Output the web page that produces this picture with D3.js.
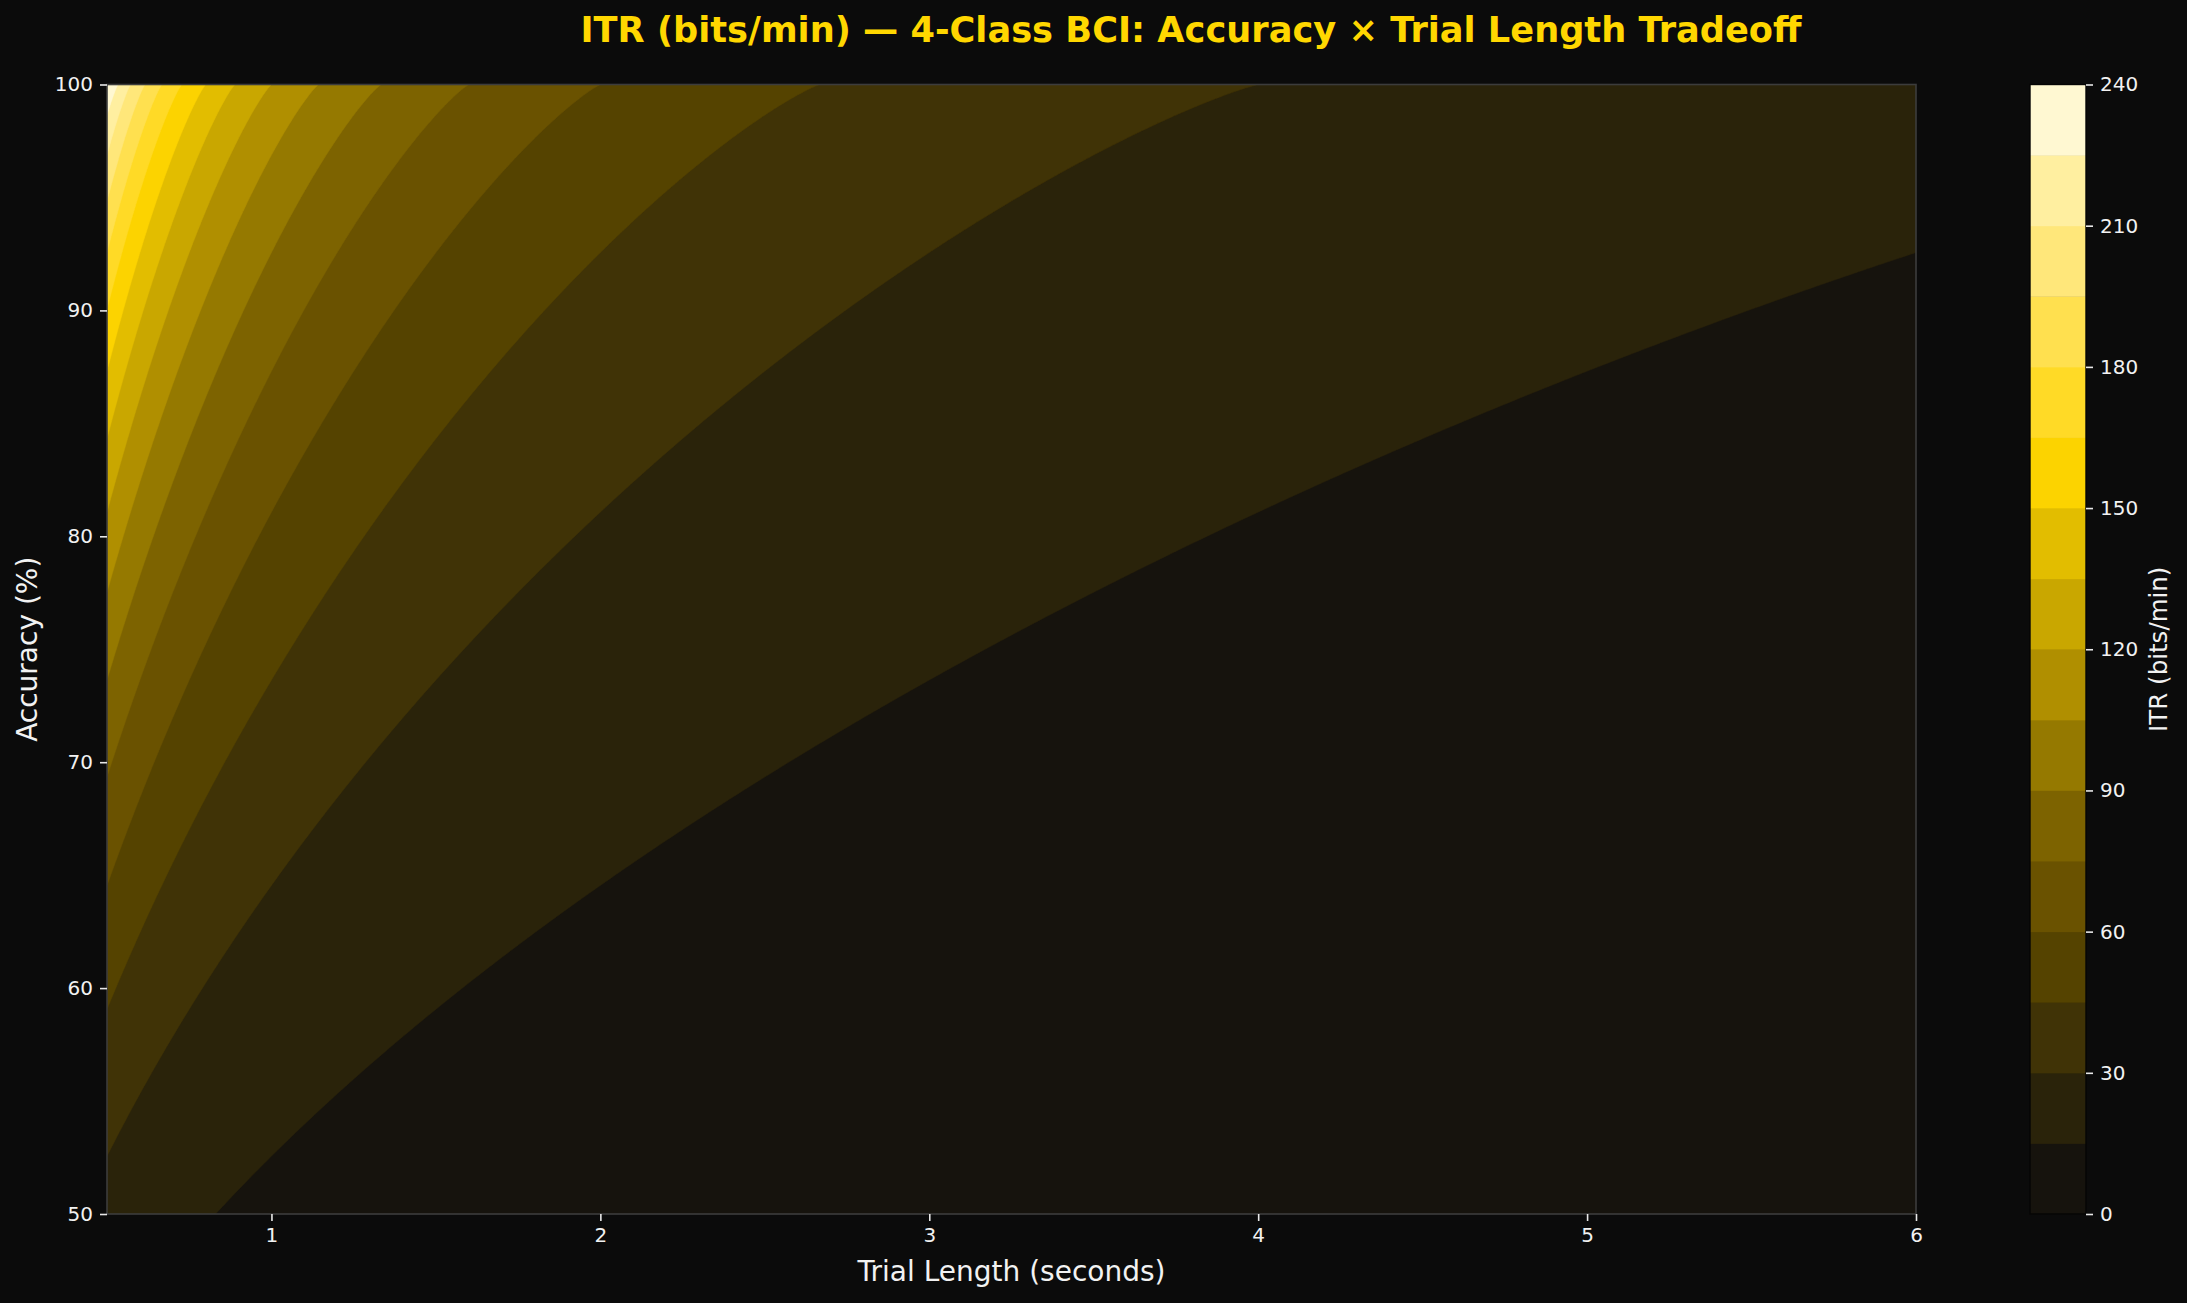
<!DOCTYPE html>
<html>
<head>
<meta charset="utf-8">
<script src="https://cdn.jsdelivr.net/npm/d3@7"></script>
<style>
  html, body { margin: 0; padding: 0; background: #0b0b0b; }
  svg { display: block; }
  text { font-family: "DejaVu Sans", sans-serif; }
</style>
</head>
<body>
<script>
// ---------------- data ----------------
const nClasses = 4;                       // 4-class BCI
const trialRange = [0.5, 6];              // trial length (s)
const accuracyRange = [50, 100];          // accuracy (%)
const itrLevels = [0, 15, 30, 45, 60, 75, 90, 105, 120, 135, 150, 165, 180, 195, 210, 225, 240];
const xTicks = [1, 2, 3, 4, 5, 6];
const yTicks = [50, 60, 70, 80, 90, 100];
const cbTicks = [0, 30, 60, 90, 120, 150, 180, 210, 240];
const bandColors = ["#16130d", "#2a230a", "#403306", "#554300", "#6a5200", "#7d6300",
                    "#957900", "#b08f00", "#c9a700", "#e2bd00", "#fcd300", "#ffda26",
                    "#ffe04f", "#ffe77a", "#ffefa0", "#fff8d2"];
const titleText = "ITR (bits/min) \u2014 4-Class BCI: Accuracy \u00d7 Trial Length Tradeoff";
const xLabel = "Trial Length (seconds)";
const yLabel = "Accuracy (%)";
const cbLabel = "ITR (bits/min)";

// Wolpaw information transfer rate (bits/min)
function itr(accPct, T, N) {
  const P = accPct / 100;
  let B = Math.log2(N);
  if (P > 0) B += P * Math.log2(P);
  if (P < 1) B += (1 - P) * Math.log2((1 - P) / (N - 1));
  return B * 60 / T;
}

// ---------------- layout ----------------
const W = 2187, H = 1303;
const L = 107, R = 1916, T = 84.5, B = 1214;
const cbX0 = 2030, cbX1 = 2086;

const svg = d3.select("body").append("svg")
  .attr("width", W).attr("height", H)
  .style("background", "#0b0b0b");

const x = d3.scaleLinear().domain(trialRange).range([L, R]);
const y = d3.scaleLinear().domain(accuracyRange).range([B, T]);

// grid of ITR values
const nx = 440, ny = 320;
const dt = (trialRange[1] - trialRange[0]) / (nx - 1);
const da = (accuracyRange[1] - accuracyRange[0]) / (ny - 1);
const values = new Float64Array(nx * ny);
for (let j = 0; j < ny; j++) {
  const a = accuracyRange[0] + j * da;
  for (let i = 0; i < nx; i++) {
    const t = trialRange[0] + i * dt;
    values[j * nx + i] = itr(a, t, nClasses);
  }
}

const contours = d3.contours().size([nx, ny])
  .thresholds(itrLevels.slice(0, -1))(values);

const proj = d3.geoTransform({
  point(gx, gy) {
    this.stream.point(
      x(trialRange[0] + (gx - 0.5) * dt),
      y(accuracyRange[0] + (gy - 0.5) * da));
  }
});
const path = d3.geoPath(proj);

svg.append("defs").append("clipPath").attr("id", "plotclip")
  .append("rect").attr("x", L).attr("y", T).attr("width", R - L).attr("height", B - T);

const gPlot = svg.append("g").attr("clip-path", "url(#plotclip)");
gPlot.append("rect").attr("x", L).attr("y", T).attr("width", R - L).attr("height", B - T)
  .attr("fill", bandColors[0]);
gPlot.selectAll("path.band").data(contours).join("path")
  .attr("class", "band")
  .attr("d", path)
  .attr("fill", d => bandColors[itrLevels.indexOf(d.value)])
  .attr("stroke", d => bandColors[itrLevels.indexOf(d.value)])
  .attr("stroke-width", 0.5);

// spines
svg.append("rect").attr("x", L).attr("y", T).attr("width", R - L).attr("height", B - T)
  .attr("fill", "none").attr("stroke", "#3c3c3c").attr("stroke-width", 1.6);

// axes
function styleAxis(g) {
  g.select(".domain").remove();
  g.selectAll(".tick line").attr("stroke", "#e8e8e8").attr("stroke-width", 1.6);
  g.selectAll(".tick text").attr("fill", "#f2f2f2").style("font-size", "20px")
    .style("font-family", "'DejaVu Sans', sans-serif");
}
svg.append("g").attr("transform", `translate(0,${B})`)
  .call(d3.axisBottom(x).tickValues(xTicks).tickFormat(d3.format("d")).tickSize(7).tickPadding(7))
  .call(styleAxis);
svg.append("g").attr("transform", `translate(${L},0)`)
  .call(d3.axisLeft(y).tickValues(yTicks).tickFormat(d3.format("d")).tickSize(7).tickPadding(7))
  .call(styleAxis);

// axis labels
svg.append("text").attr("x", (L + R) / 2).attr("y", 1281)
  .attr("text-anchor", "middle").attr("fill", "#f2f2f2").style("font-size", "28px")
  .text(xLabel);
svg.append("text").attr("transform", `translate(37,${(T + B) / 2}) rotate(-90)`)
  .attr("text-anchor", "middle").attr("fill", "#f2f2f2").style("font-size", "28px")
  .text(yLabel);

// title
svg.append("text").attr("x", 1191).attr("y", 42)
  .attr("text-anchor", "middle").attr("fill", "#FFD700")
  .style("font-size", "35.2px").style("font-weight", "bold")
  .text(titleText);

// colorbar
const c = d3.scaleLinear().domain([itrLevels[0], itrLevels[itrLevels.length - 1]]).range([B, T]);
const bands = d3.pairs(itrLevels);
svg.append("g").selectAll("rect").data(bands).join("rect")
  .attr("x", cbX0).attr("width", cbX1 - cbX0)
  .attr("y", d => c(d[1])).attr("height", d => c(d[0]) - c(d[1]) + 0.5)
  .attr("fill", (d, i) => bandColors[i]);
svg.append("rect").attr("x", cbX0).attr("y", T).attr("width", cbX1 - cbX0).attr("height", B - T)
  .attr("fill", "none").attr("stroke", "#050505").attr("stroke-width", 1.4);
svg.append("g").attr("transform", `translate(${cbX1},0)`)
  .call(d3.axisRight(c).tickValues(cbTicks).tickFormat(d3.format("d")).tickSize(7).tickPadding(7))
  .call(styleAxis);
svg.append("text").attr("transform", `translate(2167,${(T + B) / 2}) rotate(-90)`)
  .attr("text-anchor", "middle").attr("fill", "#f2f2f2").style("font-size", "24.5px")
  .text(cbLabel);
</script>
</body>
</html>
